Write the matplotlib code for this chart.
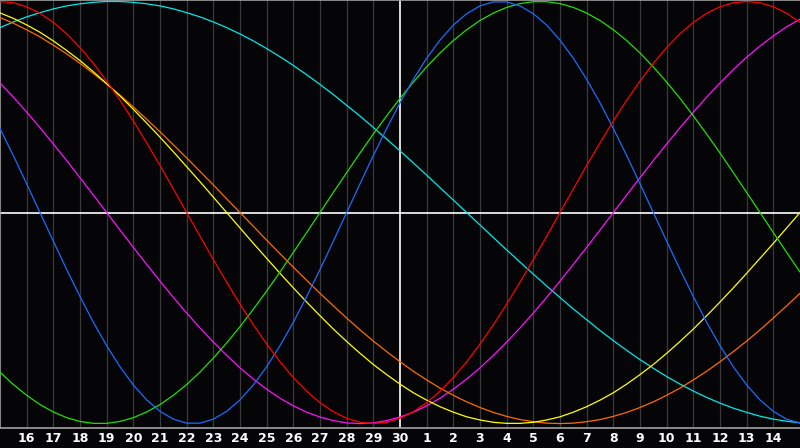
import matplotlib
matplotlib.use("Agg")
import matplotlib.pyplot as plt

# day labels along the bottom (index 0 is the 15th of the previous month)
day_labels = [str(d) for d in range(16, 31)] + [str(d) for d in range(1, 15)]
# readings taken every half day, from index 0 to 30
half_days = [n / 2 for n in range(61)]

# curve values, scaled -1..1
red = [1.0, 0.994, 0.975, 0.944, 0.901, 0.847, 0.782, 0.707, 0.623, 0.532, 0.434, 0.330,
       0.223, 0.112, 0.0,
       -0.112, -0.223, -0.330, -0.434, -0.532, -0.623, -0.707, -0.782, -0.847, -0.901,
       -0.944, -0.975, -0.994, -1.0,
       -0.994, -0.975, -0.944, -0.901, -0.847, -0.782, -0.707, -0.623, -0.532, -0.434,
       -0.330, -0.223, -0.112, 0.0,
       0.112, 0.223, 0.330, 0.434, 0.532, 0.623, 0.707, 0.782, 0.847, 0.901, 0.944,
       0.975, 0.994, 1.0, 0.994, 0.975, 0.944, 0.901]
blue = [0.398, 0.270, 0.136, 0.0, -0.136, -0.270, -0.398, -0.520, -0.631, -0.731, -0.817,
        -0.888, -0.942, -0.979, -0.998, -0.998, -0.979, -0.942, -0.888, -0.817, -0.731,
        -0.631, -0.520, -0.398, -0.270, -0.136, 0.0, 0.136, 0.270, 0.398, 0.520, 0.631,
        0.731, 0.817, 0.888, 0.942, 0.979, 0.998, 0.998, 0.979, 0.942, 0.888, 0.817,
        0.731, 0.631, 0.520, 0.398, 0.270, 0.136, 0.0, -0.136, -0.270, -0.398, -0.520,
        -0.631, -0.731, -0.817, -0.888, -0.942, -0.979, -0.998]
green = [-0.756, -0.815, -0.866, -0.910, -0.945, -0.972, -0.990, -0.999, -0.999, -0.990,
         -0.972, -0.945, -0.910, -0.866, -0.815, -0.756, -0.690, -0.618, -0.541, -0.458,
         -0.372, -0.282, -0.189, -0.095, 0.0, 0.095, 0.189, 0.282, 0.372, 0.458, 0.541,
         0.618, 0.690, 0.756, 0.815, 0.866, 0.910, 0.945, 0.972, 0.990, 0.999, 0.999,
         0.990, 0.972, 0.945, 0.910, 0.866, 0.815, 0.756, 0.690, 0.618, 0.541, 0.458,
         0.372, 0.282, 0.189, 0.095, 0.0, -0.095, -0.189, -0.282]
cyan = [0.876, 0.903, 0.927, 0.947, 0.965, 0.979, 0.989, 0.996, 1.0, 1.0, 0.996, 0.989,
        0.979, 0.965, 0.947, 0.927, 0.903, 0.876, 0.846, 0.813, 0.777, 0.738, 0.697,
        0.653, 0.607, 0.559, 0.508, 0.457, 0.403, 0.348, 0.292, 0.235, 0.177, 0.118,
        0.059, 0.0, -0.059, -0.118, -0.177, -0.235, -0.292, -0.348, -0.403, -0.457,
        -0.508, -0.559, -0.607, -0.653, -0.697, -0.738, -0.777, -0.813, -0.846, -0.876,
        -0.903, -0.927, -0.947, -0.965, -0.979, -0.989, -0.996]
magenta = [0.614, 0.547, 0.476, 0.402, 0.325, 0.246, 0.165, 0.083, 0.0, -0.083, -0.165,
           -0.246, -0.325, -0.402, -0.476, -0.547, -0.614, -0.677, -0.736, -0.789,
           -0.837, -0.880, -0.916, -0.946, -0.969, -0.986, -0.997, -1.0, -0.997, -0.986,
           -0.969, -0.946, -0.916, -0.880, -0.837, -0.789, -0.736, -0.677, -0.614,
           -0.547, -0.476, -0.402, -0.325, -0.246, -0.165, -0.083, 0.0, 0.083, 0.165,
           0.246, 0.325, 0.402, 0.476, 0.547, 0.614, 0.677, 0.736, 0.789, 0.837, 0.880,
           0.916]
yellow = [0.946, 0.920, 0.889, 0.854, 0.813, 0.768, 0.720, 0.667, 0.611, 0.552, 0.489,
          0.424, 0.357, 0.288, 0.217, 0.146, 0.073, 0.0, -0.073, -0.146, -0.217, -0.288,
          -0.357, -0.424, -0.489, -0.552, -0.611, -0.667, -0.720, -0.768, -0.813, -0.854,
          -0.889, -0.920, -0.946, -0.968, -0.983, -0.994, -0.999, -0.999, -0.994, -0.983,
          -0.968, -0.946, -0.920, -0.889, -0.854, -0.813, -0.768, -0.720, -0.667, -0.611,
          -0.552, -0.489, -0.424, -0.357, -0.288, -0.217, -0.146, -0.073, 0.0]
orange = [0.924, 0.897, 0.866, 0.832, 0.793, 0.752, 0.707, 0.659, 0.609, 0.556, 0.5,
          0.442, 0.383, 0.321, 0.259, 0.195, 0.131, 0.065, 0.0, -0.065, -0.131, -0.195,
          -0.259, -0.321, -0.383, -0.442, -0.5, -0.556, -0.609, -0.659, -0.707, -0.752,
          -0.793, -0.832, -0.866, -0.897, -0.924, -0.947, -0.966, -0.981, -0.991, -0.998,
          -1.0, -0.998, -0.991, -0.981, -0.966, -0.947, -0.924, -0.897, -0.866, -0.832,
          -0.793, -0.752, -0.707, -0.659, -0.609, -0.556, -0.5, -0.442, -0.383]

series = [
    (cyan, "#00e8e8"),
    (magenta, "#ff10ff"),
    (orange, "#ff6a00"),
    (yellow, "#ffff00"),
    (green, "#20e000"),
    (blue, "#1a6cff"),
    (red, "#ff0000"),
]

fig = plt.figure(figsize=(8, 4.48), dpi=100, facecolor="#050508")
ax = fig.add_axes([0, 20 / 448, 1, 428 / 448])
ax.set_facecolor("#050508")

for i in range(1, 30):
    if i == 15:
        continue
    ax.axvline(i, color="#3a3a3e", linewidth=0.9, zorder=1)
ax.axvline(15, color="white", linewidth=1.2, zorder=2)
ax.axhline(0, color="white", linewidth=1.2, zorder=2)

for values, color in series:
    ax.plot(half_days, values, color=color, linewidth=0.9, zorder=3)

ax.set_xlim(0, 30)
ax.set_ylim(-1.021, 1.007)
ax.set_yticks([])
ax.set_xticks(range(1, 30))
ax.set_xticklabels(day_labels)
ax.tick_params(axis="x", length=0, pad=3, colors="white", labelsize=9)
for label in ax.get_xticklabels():
    label.set_fontweight("bold")

for side in ("left", "top", "bottom"):
    ax.spines[side].set_color("#a0a0a0")
    ax.spines[side].set_linewidth(1.2)
ax.spines["right"].set_visible(False)

fig.savefig("out.png", dpi=100, facecolor=fig.get_facecolor())
